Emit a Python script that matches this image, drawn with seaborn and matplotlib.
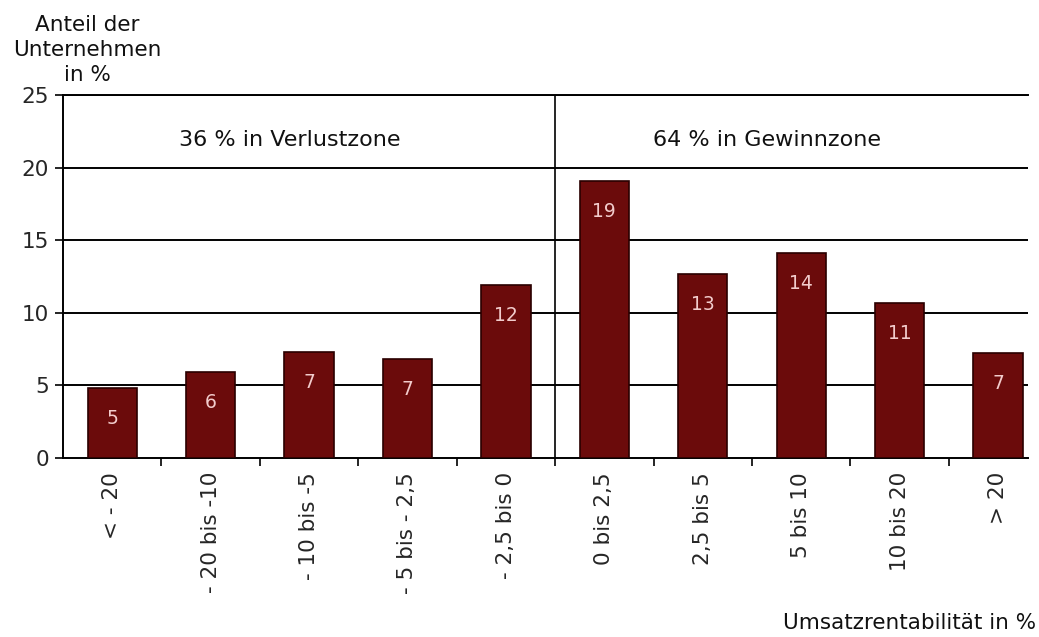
import matplotlib
matplotlib.use("Agg")
import matplotlib.pyplot as plt
import seaborn as sns
import pandas as pd
from matplotlib.ticker import FixedLocator

sns.set_theme(style="white")
plt.rcParams['font.family'] = ['DejaVu Sans']

# Data
categories = ["< - 20", "- 20 bis -10", "- 10 bis -5", "- 5 bis - 2,5", "- 2,5 bis 0",
              "0 bis 2,5", "2,5 bis 5", "5 bis 10", "10 bis 20", "> 20"]
shares = [4.8, 5.9, 7.3, 6.8, 11.9, 19.1, 12.7, 14.1, 10.7, 7.2]
bar_labels = ["5", "6", "7", "7", "12", "19", "13", "14", "11", "7"]
zone_texts = ["36 % in Verlustzone", "64 % in Gewinnzone"]
zone_x = [1.8, 6.65]

df = pd.DataFrame({"cat": categories, "share": shares})

fig = plt.figure(figsize=(10.39, 6.37), dpi=100)
ax = fig.add_axes([0.0606, 0.281, 0.9284, 0.570])

sns.barplot(data=df, x="cat", y="share", color="#6b0b0b", saturation=1,
            width=0.5, edgecolor="#2a0000", linewidth=1.2, ax=ax, zorder=3)

# horizontal grid lines
for yv in [5, 10, 15, 20, 25]:
    ax.axhline(yv, color="black", linewidth=1.4, zorder=1)
# divider between loss and profit zone
ax.axvline(4.5, color="black", linewidth=1.2, zorder=4)

# value labels inside bars
for i, (v, lab) in enumerate(zip(shares, bar_labels)):
    ax.annotate(lab, xy=(i, v), xytext=(0, -22), textcoords="offset points",
                ha="center", va="center", fontsize=13.5, color="#f2cccc", zorder=5)

for t, xp in zip(zone_texts, zone_x):
    ax.text(xp, 21.9, t, ha="center", va="center", fontsize=16, color="#111111")

ax.set_xlim(-0.5, 9.3)
ax.set_ylim(0, 25)
ax.set_yticks([0, 5, 10, 15, 20, 25])
ax.set_xticks(range(len(categories)))
ax.set_xticklabels(categories, rotation=90, ha="center", va="top", fontsize=15.5)
ax.xaxis.set_minor_locator(FixedLocator([0.5 + k for k in range(9)]))
ax.tick_params(axis="x", which="major", length=0, pad=10)
ax.tick_params(axis="x", which="minor", direction="out", length=6, width=1.2,
               color="black", bottom=True)
ax.tick_params(axis="y", direction="out", length=6, width=1.2, color="black",
               left=True, labelsize=15.5, pad=4)
ax.set_xlabel("")
ax.set_ylabel("")

for side in ["right"]:
    ax.spines[side].set_visible(False)
for side in ["left", "bottom", "top"]:
    ax.spines[side].set_color("black")
    ax.spines[side].set_linewidth(1.4)

fig.text(0.084, 0.921, "Anteil der\nUnternehmen\nin %", ha="center", va="center",
         fontsize=15.5, linespacing=1.32, color="#111111")
fig.text(0.997, 0.022, "Umsatzrentabilität in %", ha="right", va="center",
         fontsize=15.5, color="#111111")

fig.savefig("out.png", dpi=100, facecolor="white")
